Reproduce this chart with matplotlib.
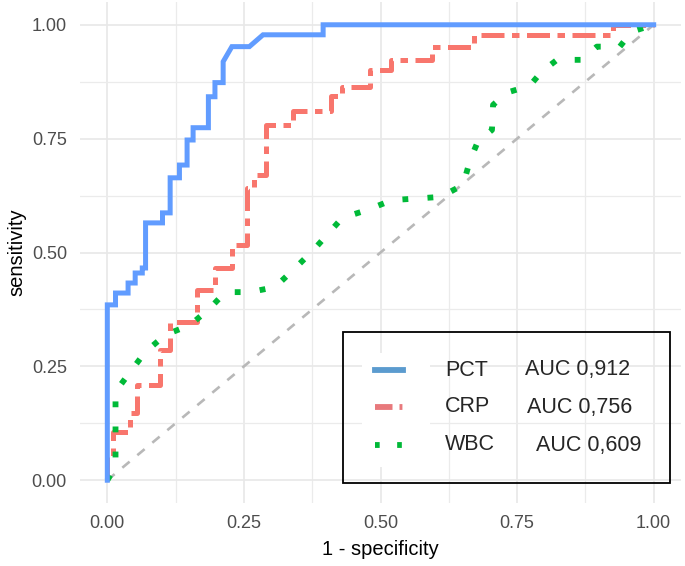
#!/usr/bin/env python3
"""ROC curves of PCT, CRP and WBC"""
import matplotlib
matplotlib.use('Agg')
import matplotlib.pyplot as plt
from matplotlib.lines import Line2D
from matplotlib.patches import Rectangle
import numpy as np

# curve vertices (1 - specificity, sensitivity)
pct_fpr = [0, 0, 0.015, 0.015, 0.038, 0.038, 0.051, 0.051, 0.064, 0.064,
           0.07, 0.07, 0.101, 0.101, 0.115, 0.115, 0.132, 0.132, 0.146,
           0.146, 0.157, 0.157, 0.185, 0.185, 0.197, 0.197, 0.212, 0.212,
           0.228, 0.26, 0.285, 0.395, 0.395, 1.0]
pct_tpr = [0, 0.385, 0.385, 0.411, 0.411, 0.433, 0.433, 0.455, 0.455,
           0.466, 0.466, 0.565, 0.565, 0.587, 0.587, 0.664, 0.664, 0.692,
           0.692, 0.747, 0.747, 0.774, 0.774, 0.842, 0.842, 0.873, 0.873,
           0.919, 0.952, 0.952, 0.978, 0.978, 1.0, 1.0]

crp_fpr = [0, 0, 0.011, 0.011, 0.042, 0.042, 0.055, 0.055, 0.097, 0.097,
           0.115, 0.115, 0.165, 0.165, 0.198, 0.198, 0.228, 0.228, 0.256,
           0.256, 0.268, 0.268, 0.29, 0.29, 0.34, 0.34, 0.41, 0.41, 0.43,
           0.43, 0.48, 0.48, 0.52, 0.52, 0.594, 0.594, 0.672, 0.672, 0.925,
           0.925, 1.0]
crp_tpr = [0, 0.05, 0.05, 0.106, 0.106, 0.147, 0.147, 0.209, 0.209, 0.286,
           0.286, 0.347, 0.347, 0.417, 0.417, 0.466, 0.466, 0.516, 0.516,
           0.642, 0.642, 0.67, 0.67, 0.78, 0.78, 0.81, 0.81, 0.844, 0.844,
           0.864, 0.864, 0.9, 0.9, 0.923, 0.923, 0.952, 0.952, 0.978, 0.978,
           1.0, 1.0]

wbc_fpr = [0, 0.015, 0.015, 0.024, 0.069, 0.106, 0.152, 0.188, 0.216,
           0.261, 0.307, 0.344, 0.377, 0.43, 0.475, 0.521, 0.609, 0.651,
           0.664, 0.678, 0.704, 0.706, 0.731, 0.773, 0.795, 0.823, 0.868,
           0.896, 0.938, 0.96, 1.0]
wbc_tpr = [0, 0.03, 0.19, 0.209, 0.281, 0.319, 0.341, 0.378, 0.413, 0.413,
           0.424, 0.466, 0.505, 0.576, 0.593, 0.615, 0.622, 0.648, 0.703,
           0.743, 0.769, 0.824, 0.851, 0.866, 0.897, 0.923, 0.923, 0.952,
           0.952, 0.985, 1.0]

markers = ['PCT', 'CRP', 'WBC']
auc_labels = ['AUC 0,912', 'AUC 0,756', 'AUC 0,609']
ticks = [0.0, 0.25, 0.5, 0.75, 1.0]
tick_labels = ['0.00', '0.25', '0.50', '0.75', '1.00']

plt.rcParams['font.family'] = ['Liberation Sans', 'DejaVu Sans']

W, H = 685, 566
fig = plt.figure(figsize=(W / 100, H / 100), dpi=100)
ax = fig.add_axes([80 / W, 1 - 503 / H, 601 / W, 501 / H])

ax.set_xlim(-0.05, 1.05)
ax.set_ylim(-0.05, 1.05)
for s in ax.spines.values():
    s.set_visible(False)
ax.set_xticks(ticks)
ax.set_xticklabels(tick_labels)
ax.set_yticks(ticks)
ax.set_yticklabels(tick_labels)
ax.set_xticks(np.arange(0.125, 1.0, 0.25), minor=True)
ax.set_yticks(np.arange(0.125, 1.0, 0.25), minor=True)
ax.tick_params(which='both', length=0)
ax.tick_params(axis='x', pad=8.5, labelsize=13, labelcolor='#4d4d4d')
ax.tick_params(axis='y', pad=9.4, labelsize=13, labelcolor='#4d4d4d')
ax.grid(which='major', color='#e8e8e8', lw=1.2)
ax.grid(which='minor', color='#ebebeb', lw=0.9)
ax.set_axisbelow(True)

ax.set_xlabel('1 - specificity', fontsize=14.5, labelpad=6)
ax.set_ylabel('sensitivity', fontsize=14.5, labelpad=4)

ax.plot([0, 1], [0, 1], color='#b8b8b8', lw=1.9, dashes=(3.6, 3.8),
        zorder=2)
ax.plot(crp_fpr, crp_tpr, color='#F8766D', lw=3.6,
        dashes=(4.6, 1.5, 1.5, 1.5), zorder=3)
ax.plot(wbc_fpr, wbc_tpr, color='#00BA38', lw=4.2, dashes=(1.0, 3.3),
        zorder=4)
ax.plot(pct_fpr, pct_tpr, color='#619CFF', lw=3.6, zorder=5,
        solid_joinstyle='miter')


def px(x, y):
    """pixel position to figure fraction"""
    return x / W, 1 - y / H


# hand-drawn legend box
x0, y0 = px(343, 483)
x1, y1 = px(670, 332)
fig.patches.append(Rectangle((x0, y0), x1 - x0, y1 - y0, fill=False,
                             ec='black', lw=1.3,
                             transform=fig.transFigure, zorder=6))
kx0, ky0 = px(362, 467)
kx1, ky1 = px(430, 353)
fig.patches.append(Rectangle((kx0, ky0), kx1 - kx0, ky1 - ky0,
                             fc='white', ec='none',
                             transform=fig.transFigure, zorder=6))

key_colors = ['#5b9bcf', '#e8797c', '#00b837']
key_dashes = [None, (3.0, 1.2, 0.5, 3.0), (0.8, 3.0)]
rows = [370, 407, 445]
auc_x = [525, 527, 536]
for i in range(3):
    (lx0, ly), (lx1, _) = px(375, rows[i]), px(403, rows[i])
    line = Line2D([lx0, lx1], [ly, ly], color=key_colors[i], lw=4.2,
                  transform=fig.transFigure, zorder=7)
    if key_dashes[i] is not None:
        line.set_dashes(key_dashes[i])
    fig.lines.append(line)
    fig.text(*px(445, rows[i]), markers[i], fontsize=15.5, color='#262626',
             va='center', ha='left')
    fig.text(*px(auc_x[i], rows[i]), auc_labels[i], fontsize=15.5,
             color='#262626', va='center', ha='left')

fig.savefig('out.png', dpi=100)
